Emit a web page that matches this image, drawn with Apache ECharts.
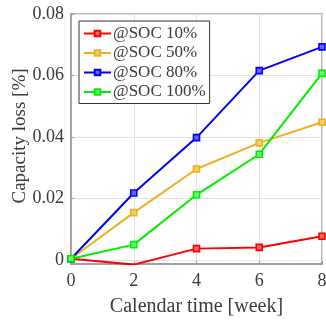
<!DOCTYPE html>
<html>
<head>
<meta charset="utf-8">
<script src="https://cdn.jsdelivr.net/npm/echarts@6/dist/echarts.min.js"></script>
<style>
  html, body { margin: 0; padding: 0; background: #fff; }
  #chart { width: 326px; height: 320px; }
</style>
</head>
<body>
<div id="chart"></div>
<script>
// Calendar ageing: capacity loss vs storage time at four states of charge
const weeks = [0, 2, 4, 6, 8];
const soc10 = [0.0004, -0.0015, 0.0037, 0.0041, 0.0077];
const soc50 = [0.0004, 0.0154, 0.0296, 0.0381, 0.0448];
const soc80 = [0.0004, 0.0218, 0.0398, 0.0616, 0.0693];
const soc100 = [0.0004, 0.0050, 0.0212, 0.0344, 0.0607];
const seriesNames = ['@SOC 10%', '@SOC 50%', '@SOC 80%', '@SOC 100%'];
const yTicks = [0, 0.02, 0.04, 0.06, 0.08];

const font = 'Liberation Serif';
const textColor = '#3a3a3a';
const axisColor = '#9a9a9a';

function mk(name, values, color, fill) {
  return {
    name: name,
    type: 'line',
    data: weeks.map((w, i) => [w, values[i]]),
    symbol: 'rect',
    symbolSize: 6,
    showAllSymbol: true,
    lineStyle: { color: color, width: 2 },
    itemStyle: { color: fill, borderColor: color, borderWidth: 1.6 },
    emphasis: { disabled: true },
    animation: false
  };
}

const chart = echarts.init(document.getElementById('chart'));
chart.setOption({
  animation: false,
  backgroundColor: '#fff',
  grid: {
    left: 71, right: 4, top: 14, bottom: 56,
    outerBoundsMode: 'none',
    containLabel: false,
    show: true, borderColor: axisColor, borderWidth: 1.5
  },
  legend: {
    orient: 'vertical',
    left: 79, top: 21,
    padding: [4, 4, 3, 4],
    itemGap: 2.5,
    itemWidth: 27,
    itemHeight: 7,
    backgroundColor: '#fff',
    borderColor: '#333',
    borderWidth: 1,
    textStyle: { fontFamily: font, fontSize: 17, color: textColor, lineHeight: 17, padding: [0, 0, 0, -3] },
    data: seriesNames
  },
  xAxis: {
    type: 'value',
    min: 0, max: 8, interval: 2,
    name: 'Calendar time [week]',
    nameLocation: 'middle',
    nameGap: 33,
    nameMoveOverlap: false,
    nameTextStyle: { fontFamily: font, fontSize: 20, color: textColor },
    axisLine: { show: true, onZero: false, lineStyle: { color: axisColor, width: 1.5 } },
    axisTick: { show: true, inside: true, length: 3, lineStyle: { color: axisColor } },
    axisLabel: { fontFamily: font, fontSize: 18, color: textColor, margin: 8 },
    splitLine: { show: true, lineStyle: { color: '#e3e3e3', width: 1 } }
  },
  yAxis: {
    type: 'value',
    min: -0.0013, max: 0.08,
    name: 'Capacity loss [%]',
    nameLocation: 'middle',
    nameGap: 41,
    nameRotate: 90,
    nameMoveOverlap: false,
    nameTextStyle: { fontFamily: font, fontSize: 19, color: textColor, padding: [0, 0, 0, 6] },
    axisLine: { show: true, onZero: false, lineStyle: { color: axisColor, width: 1.5 } },
    axisTick: { show: true, inside: true, length: 3, customValues: yTicks, lineStyle: { color: axisColor } },
    axisLabel: {
      fontFamily: font, fontSize: 18, color: textColor, margin: 7,
      customValues: yTicks,
      formatter: v => (v === 0 ? '0' : v.toFixed(2))
    },
    splitLine: { show: true, lineStyle: { color: '#e3e3e3', width: 1 } }
  },
  series: [
    mk(seriesNames[0], soc10, '#ff0000', '#ff6666'),
    mk(seriesNames[1], soc50, '#edb120', '#f4cd70'),
    mk(seriesNames[2], soc80, '#0000ff', '#6666ff'),
    mk(seriesNames[3], soc100, '#00ee00', '#77ff77')
  ]
});
</script>
</body>
</html>
